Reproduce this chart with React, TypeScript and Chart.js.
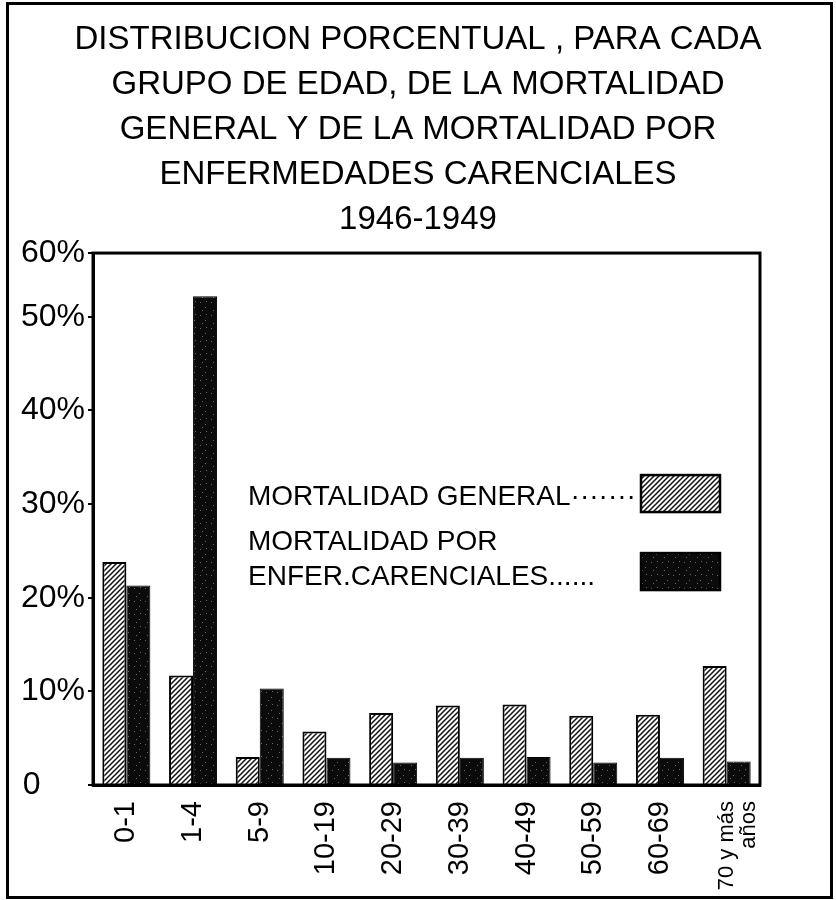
import React, { useEffect, useRef } from "react";
import { Chart, registerables } from "chart.js";

Chart.register(...registerables);

const TITLE_LINES = [
  "DISTRIBUCION PORCENTUAL , PARA CADA",
  "GRUPO DE EDAD, DE LA MORTALIDAD",
  "GENERAL Y DE LA MORTALIDAD POR",
  "ENFERMEDADES CARENCIALES",
  "1946-1949",
];

const CATEGORIES: (string | string[])[] = [
  "0-1",
  "1-4",
  "5-9",
  "10-19",
  "20-29",
  "30-39",
  "40-49",
  "50-59",
  "60-69",
  ["70 y más", "años"],
];

const MORTALIDAD_GENERAL = [23.8, 11.7, 3.0, 5.7, 7.7, 8.5, 8.6, 7.4, 7.5, 12.7];
const MORTALIDAD_CARENCIALES = [21.3, 52.2, 10.3, 2.9, 2.4, 2.9, 3.0, 2.4, 2.9, 2.5];

const Y_TICKS = [0, 10, 20, 30, 40, 50];
const Y_TOP = 56.8; // the drawn top edge, labelled "60%" in the original
const Y_TOP_LABEL = "60%";

const LEGEND_GENERAL = "MORTALIDAD GENERAL·······";
const LEGEND_CARENCIALES = ["MORTALIDAD POR", "ENFER.CARENCIALES......"];

const FONT = '"Liberation Sans", Arial, sans-serif';

function makeHatch(ctx: CanvasRenderingContext2D) {
  const c = document.createElement("canvas");
  c.width = 5;
  c.height = 5;
  const g = c.getContext("2d")!;
  g.fillStyle = "#fff";
  g.fillRect(0, 0, 5, 5);
  g.strokeStyle = "#111";
  g.lineWidth = 1.5;
  g.beginPath();
  g.moveTo(-1, 6);
  g.lineTo(6, -1);
  g.moveTo(-1, 1);
  g.lineTo(1, -1);
  g.moveTo(4, 6);
  g.lineTo(6, 4);
  g.stroke();
  return ctx.createPattern(c, "repeat")!;
}

function makeSpeckle(ctx: CanvasRenderingContext2D) {
  const c = document.createElement("canvas");
  c.width = 11;
  c.height = 13;
  const g = c.getContext("2d")!;
  g.fillStyle = "#0b0b0b";
  g.fillRect(0, 0, 11, 13);
  g.fillStyle = "#6a6a6a";
  g.fillRect(2, 3, 1, 1);
  g.fillRect(7, 8, 1, 1);
  g.fillRect(8, 2, 1, 1);
  g.fillRect(4, 11, 1, 1);
  return ctx.createPattern(c, "repeat")!;
}

export default function App() {
  const ref = useRef<HTMLCanvasElement | null>(null);

  useEffect(() => {
    const canvas = ref.current!;
    const ctx = canvas.getContext("2d")!;
    const hatch = makeHatch(ctx);
    const speckle = makeSpeckle(ctx);

    const framePlugin = {
      id: "frame",
      beforeDraw(chart: any) {
        const c = chart.ctx;
        c.save();
        c.fillStyle = "#fff";
        c.fillRect(0, 0, chart.width, chart.height);
        c.restore();
      },
      afterDraw(chart: any) {
        const c = chart.ctx;
        const a = chart.chartArea;
        c.save();
        c.strokeStyle = "#000";
        c.lineWidth = 3;
        c.strokeRect(7.5, 3.5, chart.width - 12, chart.height - 6);
        c.strokeRect(a.left, a.top, a.right - a.left, a.bottom - a.top);

        // legend
        c.fillStyle = "#000";
        c.textBaseline = "middle";
        c.textAlign = "left";
        c.font = `28px ${FONT}`;
        const x0 = a.left + 155;
        c.fillText(LEGEND_GENERAL, x0, a.top + 244);
        c.fillText(LEGEND_CARENCIALES[0], x0, a.top + 289);
        c.fillText(LEGEND_CARENCIALES[1], x0, a.top + 324);

        const sx = a.left + 548;
        c.lineWidth = 2.5;
        c.fillStyle = hatch;
        c.fillRect(sx, a.top + 222, 79, 37);
        c.strokeRect(sx, a.top + 222, 79, 37);
        c.fillStyle = speckle;
        c.fillRect(sx, a.top + 300, 79, 37);
        c.strokeRect(sx, a.top + 300, 79, 37);
        c.restore();
      },
    };

    const chart = new Chart(canvas, {
      type: "bar",
      data: {
        labels: CATEGORIES as any,
        datasets: [
          {
            label: "MORTALIDAD GENERAL",
            data: MORTALIDAD_GENERAL,
            backgroundColor: hatch as any,
            borderColor: "#000",
            borderWidth: 2,
            barPercentage: 1,
            categoryPercentage: 0.72,
          },
          {
            label: "MORTALIDAD POR ENFER. CARENCIALES",
            data: MORTALIDAD_CARENCIALES,
            backgroundColor: speckle as any,
            borderColor: "#000",
            borderWidth: 1,
            barPercentage: 1,
            categoryPercentage: 0.72,
          },
        ],
      },
      options: {
        responsive: false,
        animation: false,
        events: [],
        layout: { padding: 0 },
        plugins: {
          legend: { display: false },
          tooltip: { enabled: false },
          title: {
            display: true,
            text: TITLE_LINES,
            color: "#000",
            font: { family: FONT, size: 33, weight: "normal" as any, lineHeight: 1.364 },
            padding: { top: 17.5, bottom: 10.5 },
          },
        },
        scales: {
          x: {
            grid: { display: false },
            border: { display: true, color: "#000", width: 3 },
            ticks: {
              autoSkip: false,
              maxRotation: 90,
              minRotation: 90,
              padding: 8,
              color: "#000",
              font: (c: any) =>
                Array.isArray(CATEGORIES[c.index])
                  ? { family: FONT, size: 22, lineHeight: 1.0 }
                  : { family: FONT, size: 29 },
            },
            afterFit(scale: any) {
              scale.height = 115;
            },
          },
          y: {
            min: 0,
            max: Y_TOP,
            border: { display: true, color: "#000", width: 3 },
            grid: {
              display: true,
              drawOnChartArea: false,
              drawTicks: true,
              tickLength: 5,
              color: "#000",
              lineWidth: 2,
            },
            ticks: {
              padding: 3,
              color: "#000",
              font: { family: FONT, size: 32 },
              callback: (v: any) => {
                const n = Number(v);
                if (n === Y_TOP) return Y_TOP_LABEL;
                if (n === 0) return "0     ";
                return n + "%";
              },
            },
            afterBuildTicks(scale: any) {
              scale.ticks = [...Y_TICKS, Y_TOP].map((value) => ({ value }));
            },
            afterFit(scale: any) {
              scale.width = 93;
            },
          },
          spacer: {
            type: "linear",
            position: "right",
            display: true,
            grid: { display: false },
            border: { display: false },
            ticks: { display: false },
            afterFit(scale: any) {
              scale.width = 76;
            },
          },
        },
      },
      plugins: [framePlugin],
    } as any);

    return () => chart.destroy();
  }, []);

  return (
    <div style={{ position: "absolute", left: 0, top: 0, width: 836, height: 900, background: "#fff" }}>
      <canvas ref={ref} width={836} height={900} style={{ display: "block" }} />
    </div>
  );
}
